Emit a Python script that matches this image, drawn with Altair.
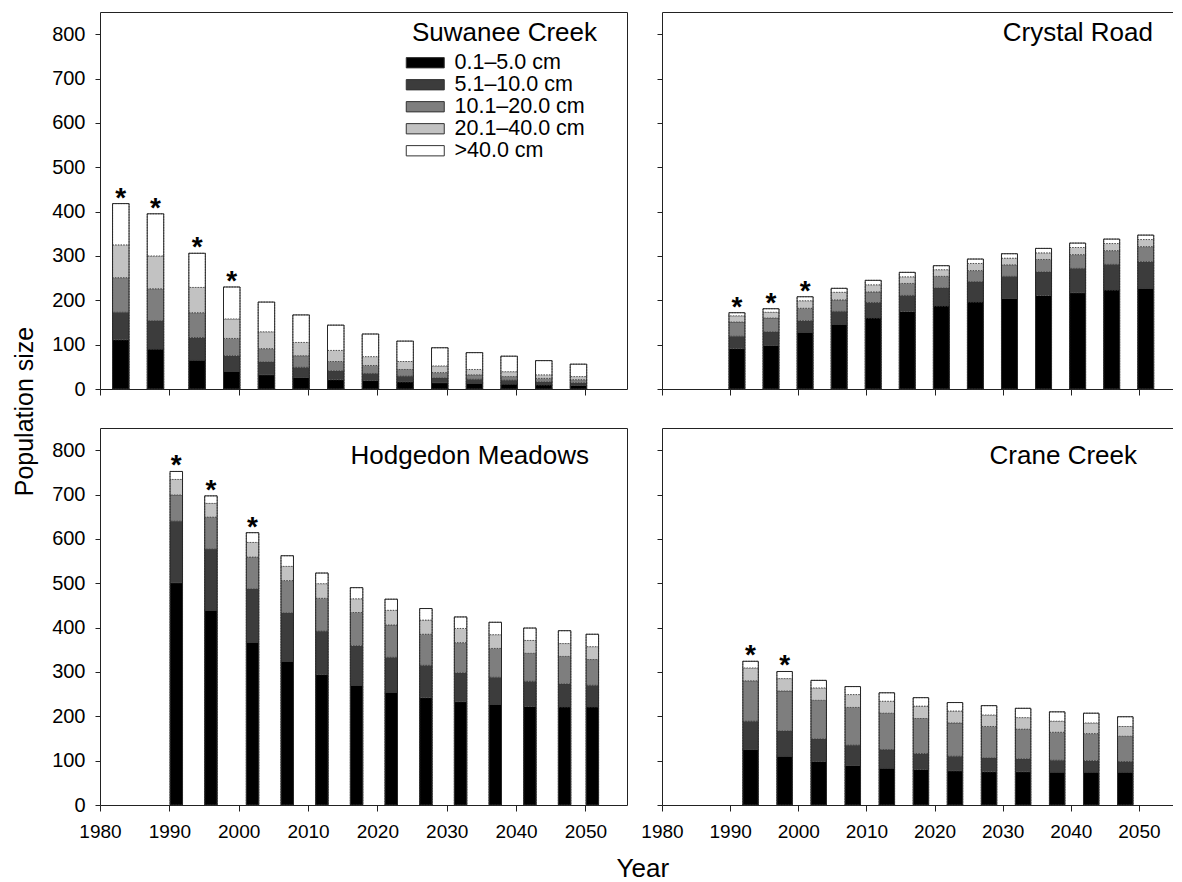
import altair as alt
import pandas as pd

FONT = "Liberation Sans"

classes = ["0.1–5.0 cm", "5.1–10.0 cm", "10.1–20.0 cm", "20.1–40.0 cm", ">40.0 cm"]
greys = ["#000000", "#3c3c3c", "#7e7e7e", "#c2c2c2", "#ffffff"]

# Suwanee Creek
suw_years = [1983, 1988, 1994, 1999, 2004, 2009, 2014, 2019, 2024, 2029, 2034, 2039, 2044, 2049]
suw_c1 = [111, 90, 65, 40, 32, 26, 21, 19, 16, 14, 13, 11, 9, 8]
suw_c2 = [62, 64, 51, 35, 29, 23, 20, 16, 13, 11, 9, 9, 7, 6]
suw_c3 = [78, 72, 56, 39, 30, 26, 21, 18, 15, 12, 10, 8, 8, 7]
suw_c4 = [74, 74, 57, 44, 38, 30, 25, 20, 18, 15, 12, 11, 8, 7]
suw_c5 = [93, 95, 77, 72, 67, 62, 57, 51, 46, 41, 38, 35, 32, 28]
suw_star = [1, 1, 1, 1, 0, 0, 0, 0, 0, 0, 0, 0, 0, 0]

# Crystal Road
cry_years = [1991, 1996, 2001, 2006, 2011, 2016, 2021, 2026, 2031, 2036, 2041, 2046, 2051]
cry_c1 = [91, 98, 128, 146, 160, 175, 187, 196, 204, 211, 217, 223, 227]
cry_c2 = [28, 31, 26, 29, 35, 36, 41, 46, 50, 53, 55, 58, 60]
cry_c3 = [32, 31, 28, 26, 24, 27, 26, 25, 26, 28, 31, 31, 34]
cry_c4 = [14, 13, 17, 17, 16, 15, 15, 16, 15, 15, 16, 16, 16]
cry_c5 = [7, 8, 9, 9, 10, 10, 9, 10, 10, 10, 10, 10, 10]
cry_star = [1, 1, 1, 0, 0, 0, 0, 0, 0, 0, 0, 0, 0]

# Hodgedon Meadows
hod_years = [1991, 1996, 2002, 2007, 2012, 2017, 2022, 2027, 2032, 2037, 2042, 2047, 2051]
hod_c1 = [501, 439, 367, 324, 294, 270, 254, 242, 233, 227, 222, 221, 221]
hod_c2 = [139, 138, 120, 109, 98, 89, 79, 73, 65, 61, 57, 52, 49]
hod_c3 = [59, 72, 72, 73, 74, 75, 73, 70, 68, 65, 63, 62, 58]
hod_c4 = [35, 31, 33, 32, 33, 31, 33, 32, 32, 31, 29, 29, 29]
hod_c5 = [18, 17, 22, 24, 24, 25, 25, 26, 26, 28, 28, 29, 28]
hod_star = [1, 1, 1, 0, 0, 0, 0, 0, 0, 0, 0, 0, 0]

# Crane Creek
cra_years = [1993, 1998, 2003, 2008, 2013, 2018, 2023, 2028, 2033, 2038, 2043, 2048]
cra_c1 = [125, 110, 98, 89, 83, 80, 77, 75, 75, 74, 74, 74]
cra_c2 = [64, 57, 51, 46, 42, 36, 33, 31, 29, 27, 26, 24]
cra_c3 = [91, 90, 87, 85, 82, 79, 75, 71, 67, 63, 61, 57]
cra_c4 = [29, 28, 28, 29, 27, 28, 27, 26, 26, 25, 24, 22]
cra_c5 = [15, 16, 17, 18, 19, 19, 19, 21, 21, 21, 22, 22]
cra_star = [1, 1, 0, 0, 0, 0, 0, 0, 0, 0, 0, 0]

sites = {
    "Suwanee Creek": (suw_years, [suw_c1, suw_c2, suw_c3, suw_c4, suw_c5], suw_star),
    "Crystal Road": (cry_years, [cry_c1, cry_c2, cry_c3, cry_c4, cry_c5], cry_star),
    "Hodgedon Meadows": (hod_years, [hod_c1, hod_c2, hod_c3, hod_c4, hod_c5], hod_star),
    "Crane Creek": (cra_years, [cra_c1, cra_c2, cra_c3, cra_c4, cra_c5], cra_star),
}

rows, tot_rows = [], []
for site, (years, cols, stars) in sites.items():
    for i, yr in enumerate(years):
        total = 0
        for k, col in enumerate(cols):
            rows.append({"site": site, "year": yr, "cls": classes[k], "k": k, "count": col[i]})
            total += col[i]
        tot_rows.append({"site": site, "year": yr, "total": total, "star": stars[i]})
df = pd.DataFrame(rows)
tot = pd.DataFrame(tot_rows)

LINE = "#222222"


def panel(site, w, h, xmax, barw, xlabels, ylabels, right_frame, name_x, name_y, legend):
    xscale = alt.Scale(domain=[1980, xmax], nice=False, zero=False, padding=0)
    yscale = alt.Scale(domain=[0, 850], nice=False, padding=0)
    xaxis = alt.Axis(values=list(range(1980, 2051, 10)), format="d", labels=xlabels,
                     labelFlush=False, title=None)
    yaxis = alt.Axis(values=list(range(0, 801, 100)), labels=ylabels, title=None)
    if legend:
        leg = alt.Legend(title=None, orient="none", legendX=314.5, legendY=40,
                         symbolType="M-2,-0.54H2V0.54H-2Z", symbolSize=361,
                         symbolStrokeColor="#333333", symbolStrokeWidth=1,
                         labelFontSize=21.5, labelFont=FONT, labelColor="black",
                         rowPadding=-3, labelOffset=18.5, padding=0)
    else:
        leg = None
    cenc = alt.Color("cls:N", scale=alt.Scale(domain=classes, range=greys), legend=leg)
    bars = alt.Chart(df).transform_filter(alt.datum.site == site).mark_bar(
        size=barw, stroke="#3a3a3a", strokeWidth=0.8, strokeDash=[1.5, 1.2]
    ).encode(x=alt.X("year:Q", scale=xscale, axis=xaxis),
             y=alt.Y("count:Q", stack="zero", scale=yscale, axis=yaxis),
             color=cenc, order=alt.Order("k:Q", sort="ascending"))
    top_axis = alt.Axis(orient="top", labels=False, ticks=False, title=None, grid=False)
    if right_frame:
        ry = alt.Y("total:Q", scale=yscale,
                   axis=alt.Axis(orient="right", labels=False, ticks=False, title=None, grid=False))
    else:
        ry = alt.Y("total:Q", scale=yscale, axis=None)
    outline = alt.Chart(tot).transform_filter(alt.datum.site == site).mark_bar(
        size=barw, fillOpacity=0, stroke="#262626", strokeWidth=1
    ).encode(x=alt.X("year:Q", scale=xscale, axis=top_axis), y=ry)
    stars = alt.Chart(tot).transform_filter(
        (alt.datum.site == site) & (alt.datum.star == 1)
    ).mark_text(text="*", font=FONT, fontSize=28, fontWeight="bold", baseline="alphabetic",
                dy=3, color="black").encode(
        x=alt.X("year:Q", scale=xscale, axis=None),
        y=alt.Y("total:Q", scale=yscale, axis=None))
    name = alt.Chart(pd.DataFrame({"name": [site]})).mark_text(
        align="right", baseline="alphabetic", font=FONT, fontSize=26, color="black"
    ).encode(x=alt.value(name_x), y=alt.value(name_y), text="name:N")
    return alt.layer(bars, outline, stars, name).resolve_axis(
        x="independent", y="independent").properties(width=w, height=h)


H = 377
LW, RW = 527, 511
p1 = panel("Suwanee Creek", LW, H, 2056, 16.5, False, True, True, 497, 28.5, True)
p2 = panel("Crystal Road", RW, H, 2055, 16, False, False, False, 491, 29, False)
p3 = panel("Hodgedon Meadows", LW, H, 2056, 12.5, True, True, True, 489, 36, False)
p4 = panel("Crane Creek", RW, H, 2055, 15.5, True, False, False, 475, 36, False)

grid = alt.concat(p1, p2, p3, p4, columns=2, spacing={"row": 39, "column": 35},
                  bounds="flush",
                  title=alt.Title("Population size", orient="left", fontSize=25, font=FONT,
                                  fontWeight="normal", color="black", offset=14,
                                  dx=15, anchor="middle"))
grid = grid.resolve_scale(color="shared").resolve_legend(color="independent")

chart = alt.vconcat(grid, title=alt.Title("Year", orient="bottom", fontSize=26, font=FONT,
                                          fontWeight="normal", color="black", offset=15,
                                          dx=50, anchor="middle")).properties(
    padding={"left": 4, "top": 4, "right": 0, "bottom": 4}
).configure_view(strokeWidth=0).configure_axis(
    labelFont=FONT, labelFontSize=19, labelColor="black", domainColor=LINE,
    tickColor=LINE, tickSize=5, labelPadding=10, grid=False, domainWidth=1, tickWidth=1
).configure_axisY(labelFontSize=20).configure_axisX(tickSize=6, labelPadding=11)

chart.save("out.html", embed_options={"renderer": "svg", "actions": False})
